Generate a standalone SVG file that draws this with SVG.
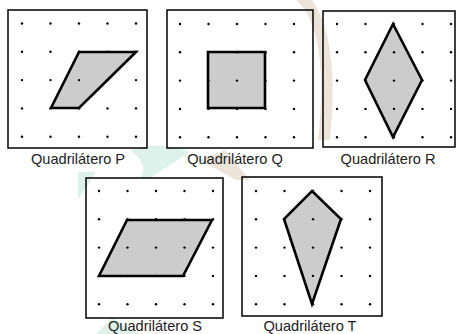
<svg xmlns="http://www.w3.org/2000/svg" width="456" height="334" viewBox="0 0 456 334">
<style>
.box{fill:none;stroke:#000;stroke-width:1.5}
.shape{fill:#cccccc;stroke:#000;stroke-width:2.6;stroke-linejoin:miter}
.dot{fill:#000}
.lbl{font-family:"Liberation Sans",Arial,sans-serif;font-size:14.6px;fill:#222;text-anchor:middle}
.wm1{fill:#d6efe7;opacity:0.8}
.wm2{fill:#e9ddd0;opacity:0.8}
</style>
<defs>
<g id="grid">
<circle class="dot" cx="0" cy="0" r="1.2"/><circle class="dot" cx="28.5" cy="0" r="1.2"/><circle class="dot" cx="57" cy="0" r="1.2"/><circle class="dot" cx="85.5" cy="0" r="1.2"/><circle class="dot" cx="114" cy="0" r="1.2"/>
<circle class="dot" cx="0" cy="28.3" r="1.2"/><circle class="dot" cx="28.5" cy="28.3" r="1.2"/><circle class="dot" cx="57" cy="28.3" r="1.2"/><circle class="dot" cx="85.5" cy="28.3" r="1.2"/><circle class="dot" cx="114" cy="28.3" r="1.2"/>
<circle class="dot" cx="0" cy="56.6" r="1.2"/><circle class="dot" cx="28.5" cy="56.6" r="1.2"/><circle class="dot" cx="57" cy="56.6" r="1.2"/><circle class="dot" cx="85.5" cy="56.6" r="1.2"/><circle class="dot" cx="114" cy="56.6" r="1.2"/>
<circle class="dot" cx="0" cy="84.9" r="1.2"/><circle class="dot" cx="28.5" cy="84.9" r="1.2"/><circle class="dot" cx="57" cy="84.9" r="1.2"/><circle class="dot" cx="85.5" cy="84.9" r="1.2"/><circle class="dot" cx="114" cy="84.9" r="1.2"/>
<circle class="dot" cx="0" cy="113.2" r="1.2"/><circle class="dot" cx="28.5" cy="113.2" r="1.2"/><circle class="dot" cx="57" cy="113.2" r="1.2"/><circle class="dot" cx="85.5" cy="113.2" r="1.2"/><circle class="dot" cx="114" cy="113.2" r="1.2"/>
</g>
</defs>
<rect width="456" height="334" fill="#fff"/>
<g id="watermark">
<path class="wm2" d="M296 0 Q330 30 318 140 L330 140 Q340 40 312 0 Z"/>
<path class="wm2" d="M200 160 L225 150 L250 180 L236 180 Z"/>
<path class="wm1" d="M130 150 Q160 140 190 152 Q170 165 150 178 L140 178 Q150 165 130 150 Z"/>
<path class="wm1" d="M78 172 L96 172 L78 200 Z"/>
<path class="wm1" d="M96 334 L112 318 L140 334 Z"/>
</g>
<g id="quadP">
<rect class="box" x="8" y="10" width="139" height="138"/>
<polygon class="shape" points="51,108 79,108 136,52 79,52"/>
<use href="#grid" x="22" y="23.5"/>
<text class="lbl" x="78" y="164">Quadrilátero P</text>
</g>
<g id="quadQ">
<rect class="box" x="167" y="10" width="146" height="138"/>
<polygon class="shape" points="208,52 265,52 265,108 208,108"/>
<use href="#grid" x="180" y="24"/>
<text class="lbl" x="235" y="164">Quadrilátero Q</text>
</g>
<g id="quadR">
<rect class="box" x="323" y="11" width="132" height="136"/>
<polygon class="shape" points="393,24 422,80 393,137 365,80"/>
<use href="#grid" x="337" y="24"/>
<text class="lbl" x="388" y="164">Quadrilátero R</text>
</g>
<g id="quadS">
<rect class="box" x="86" y="178" width="137" height="140"/>
<polygon class="shape" points="127,220 212,220 183,276 99,276"/>
<use href="#grid" x="99" y="191"/>
<text class="lbl" x="155" y="331">Quadrilátero S</text>
</g>
<g id="quadT">
<rect class="box" x="242" y="177" width="140" height="139"/>
<polygon class="shape" points="312,191 341,219 312,304 284,219"/>
<use href="#grid" x="256" y="191"/>
<text class="lbl" x="310" y="331">Quadrilátero T</text>
</g>
<g id="connectors"/>
</svg>
